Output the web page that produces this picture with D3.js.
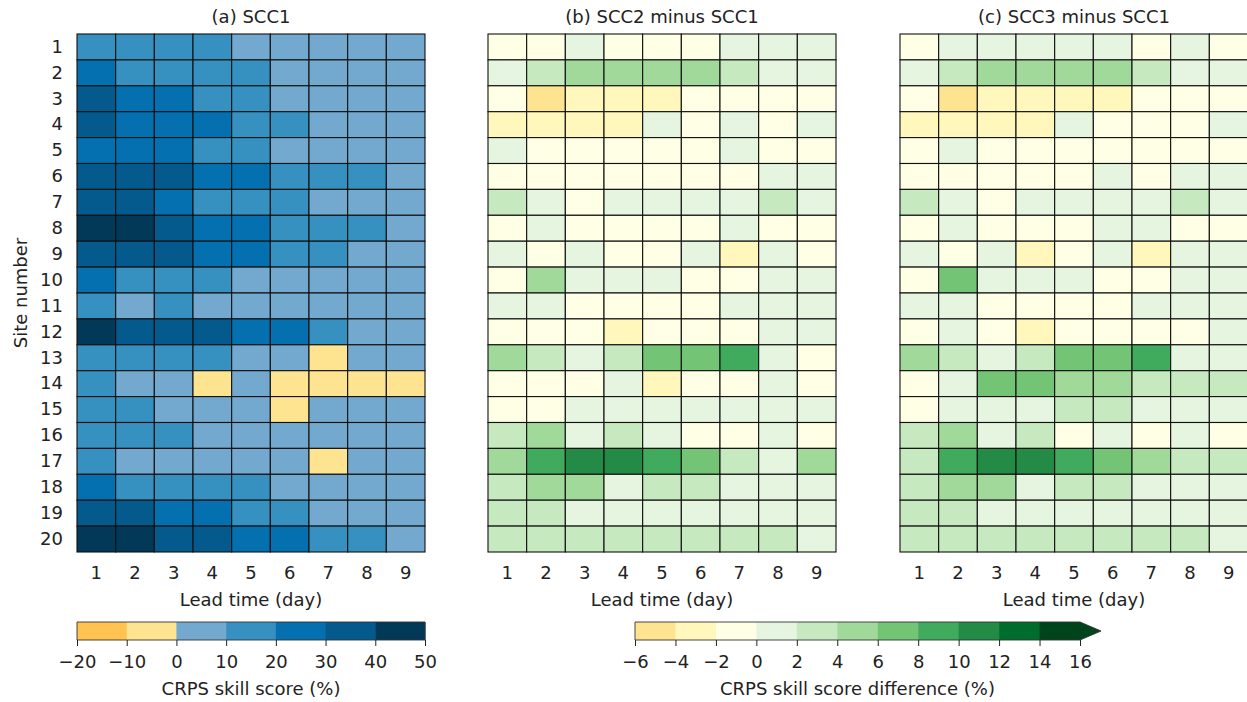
<!DOCTYPE html>
<html>
<head>
<meta charset="utf-8">
<script src="https://cdn.jsdelivr.net/npm/d3@7"></script>
<style>
  body { margin: 0; background: #fff; }
  text { font-family: "DejaVu Sans", sans-serif; fill: #222; }
</style>
</head>
<body>
<div id="chart"></div>
<script>
// lead times and site numbers
let days = [1, 2, 3, 4, 5, 6, 7, 8, 9];
let sites = d3.range(1, 21);

// (a) SCC1 skill score (%), one row per site, estimated from the colour classes
let scc1 = [
    [15, 15, 15, 15, 5, 5, 5, 5, 5],
    [25, 15, 15, 15, 15, 5, 5, 5, 5],
    [35, 25, 25, 15, 15, 5, 5, 5, 5],
    [35, 25, 25, 25, 15, 15, 5, 5, 5],
    [25, 25, 25, 15, 15, 5, 5, 5, 5],
    [35, 35, 35, 25, 25, 15, 15, 15, 5],
    [35, 35, 25, 15, 15, 15, 5, 5, 5],
    [45, 45, 35, 25, 25, 15, 15, 15, 5],
    [35, 35, 35, 25, 25, 15, 15, 5, 5],
    [25, 15, 15, 15, 5, 5, 5, 5, 5],
    [15, 5, 15, 5, 5, 5, 5, 5, 5],
    [45, 35, 35, 35, 25, 25, 15, 5, 5],
    [15, 15, 15, 15, 5, 5, -5, 5, 5],
    [15, 5, 5, -5, 5, -5, -5, -5, -5],
    [15, 15, 5, 5, 5, -5, 5, 5, 5],
    [15, 15, 15, 5, 5, 5, 5, 5, 5],
    [15, 5, 5, 5, 5, 5, -5, 5, 5],
    [25, 15, 15, 15, 15, 5, 5, 5, 5],
    [35, 35, 25, 25, 15, 15, 5, 5, 5],
    [45, 45, 35, 35, 25, 25, 15, 15, 5]
];

// (b) SCC2 minus SCC1 (%)
let scc2diff = [
    [-1, -1, 1, -1, -1, -1, 1, 1, 1],
    [1, 3, 5, 5, 5, 5, 3, 1, 1],
    [-1, -5, -3, -3, -3, -1, -1, -1, -1],
    [-3, -3, -3, -3, 1, -1, 1, -1, 1],
    [1, -1, -1, -1, -1, -1, 1, -1, -1],
    [-1, -1, -1, -1, -1, -1, -1, 1, 1],
    [3, 1, -1, 1, 1, 1, 1, 3, 1],
    [-1, 1, -1, -1, -1, -1, 1, -1, -1],
    [1, -1, 1, -1, -1, 1, -3, 1, -1],
    [-1, 5, 1, 1, 1, -1, -1, 1, 1],
    [1, 1, -1, -1, -1, -1, 1, 1, 1],
    [-1, -1, -1, -3, -1, -1, -1, 1, 1],
    [5, 3, 1, 3, 7, 7, 9, 1, -1],
    [-1, -1, -1, 1, -3, -1, -1, 1, -1],
    [-1, -1, 1, 1, 1, 1, 1, 1, 1],
    [3, 5, 1, 3, 1, -1, -1, 1, -1],
    [5, 9, 11, 11, 9, 7, 3, 1, 5],
    [3, 5, 5, 1, 3, 3, 1, 1, 1],
    [3, 3, 1, 1, 1, 1, 1, 1, 1],
    [3, 3, 3, 3, 3, 3, 3, 3, 1]
];

// (c) SCC3 minus SCC1 (%)
let scc3diff = [
    [-1, 1, 1, 1, 1, 1, -1, 1, -1],
    [1, 3, 5, 5, 5, 5, 3, 1, 1],
    [-1, -5, -3, -3, -3, -3, -1, -1, -1],
    [-3, -3, -3, -3, 1, -1, -1, -1, 1],
    [-1, 1, -1, -1, -1, -1, -1, -1, -1],
    [-1, -1, -1, -1, -1, 1, -1, 1, 1],
    [3, 1, -1, 1, 1, 1, 1, 3, 1],
    [-1, 1, -1, -1, -1, 1, 1, -1, -1],
    [1, -1, 1, -3, -1, 1, -3, 1, 1],
    [-1, 7, 1, 1, 1, -1, -1, 1, 1],
    [1, 1, -1, -1, -1, -1, 1, 1, 1],
    [-1, 1, -1, -3, -1, -1, -1, -1, 1],
    [5, 3, 1, 3, 7, 7, 9, 1, 1],
    [-1, 1, 7, 7, 5, 5, 3, 3, 3],
    [-1, 1, 1, 1, 3, 3, 1, 1, 1],
    [3, 5, 1, 3, -1, 1, -1, 1, -1],
    [3, 9, 11, 11, 9, 7, 5, 3, 3],
    [3, 5, 5, 1, 3, 3, 1, 1, 1],
    [3, 3, 1, 1, 1, 1, 1, 1, 1],
    [3, 3, 3, 3, 3, 3, 3, 3, 1]
];

// colour classes
let skillBounds = [-20, -10, 0, 10, 20, 30, 40, 50];
let skillColors = ["#fec44f", "#fee391", "#74a9cf", "#3690c0", "#0570b0", "#045a8d", "#023858"];
let diffBounds = [-6, -4, -2, 0, 2, 4, 6, 8, 10, 12, 14, 16];
let diffColors = ["#fee391", "#fff7bc", "#ffffe5", "#e5f5e0", "#c7e9c0", "#a1d99b", "#74c476",
                  "#41ab5d", "#238b45", "#006d2c", "#00441b"];

let W = 1247, H = 702;
let fs = "18px";
let svg = d3.select("#chart").append("svg").attr("width", W).attr("height", H);

let skillColor = d3.scaleThreshold().domain(skillBounds.slice(1, -1)).range(skillColors);
let diffColor = d3.scaleThreshold().domain(diffBounds.slice(1, -1)).range(diffColors);

let plotTop = 34, plotBottom = 552, panelW = 348;

function panel(left, title, data, color, showY) {
    let x = d3.scaleBand().domain(days).range([left, left + panelW]);
    let y = d3.scaleBand().domain(sites).range([plotTop, plotBottom]);
    let g = svg.append("g");

    let cells = [];
    data.forEach((row, i) => row.forEach((v, j) => cells.push({site: sites[i], day: days[j], v: v})));

    g.selectAll("rect.cell")
        .data(cells)
        .enter().append("rect")
        .attr("class", "cell")
        .attr("x", (d) => x(d.day))
        .attr("y", (d) => y(d.site))
        .attr("width", x.bandwidth())
        .attr("height", y.bandwidth())
        .attr("fill", (d) => color(d.v))
        .attr("stroke", "#111")
        .attr("stroke-width", 1.1);

    let xAxis = g.append("g")
        .attr("transform", "translate(0," + plotBottom + ")")
        .call(d3.axisBottom(x).tickSize(0).tickPadding(14));
    xAxis.select(".domain").remove();
    xAxis.selectAll("text").style("font-size", fs).attr("fill", "#222");

    if (showY) {
        let yAxis = g.append("g")
            .attr("transform", "translate(" + left + ",0)")
            .call(d3.axisLeft(y).tickSize(0).tickPadding(14));
        yAxis.select(".domain").remove();
        yAxis.selectAll("text").style("font-size", fs).attr("fill", "#222");
    }

    g.append("text")
        .attr("x", left + panelW / 2)
        .attr("y", 23)
        .attr("text-anchor", "middle")
        .style("font-size", fs)
        .text(title);

    g.append("text")
        .attr("x", left + panelW / 2)
        .attr("y", 606)
        .attr("text-anchor", "middle")
        .style("font-size", fs)
        .text("Lead time (day)");
}

panel(77, "(a) SCC1", scc1, skillColor, true);
panel(488, "(b) SCC2 minus SCC1", scc2diff, diffColor, false);
panel(900, "(c) SCC3 minus SCC1", scc3diff, diffColor, false);

svg.append("text")
    .attr("transform", "translate(27," + ((plotTop + plotBottom) / 2) + ") rotate(-90)")
    .attr("text-anchor", "middle")
    .style("font-size", fs)
    .text("Site number");

// colour bars
function colorbar(x0, x1, bounds, colors, label, extend) {
    let cbTop = 622, cbH = 18;
    let s = d3.scaleLinear().domain([bounds[0], bounds[bounds.length - 1]]).range([x0, x1]);
    let g = svg.append("g");
    g.selectAll("rect")
        .data(colors)
        .enter().append("rect")
        .attr("x", (d, i) => s(bounds[i]))
        .attr("y", cbTop)
        .attr("width", (d, i) => s(bounds[i + 1]) - s(bounds[i]) + 0.5)
        .attr("height", cbH)
        .attr("fill", (d) => d);

    let outline = "M" + x0 + "," + cbTop + "H" + x1;
    if (extend) {
        g.append("path")
            .attr("d", "M" + x1 + "," + cbTop + "L" + (x1 + 21) + "," + (cbTop + cbH / 2) + "L" + x1 + "," + (cbTop + cbH) + "Z")
            .attr("fill", extend);
        outline += "L" + (x1 + 21) + "," + (cbTop + cbH / 2) + "L" + x1 + "," + (cbTop + cbH);
    } else {
        outline += "V" + (cbTop + cbH);
    }
    outline += "H" + x0 + "Z";
    g.append("path").attr("d", outline).attr("fill", "none").attr("stroke", "#333").attr("stroke-width", 0.9);

    let ax = g.append("g")
        .attr("transform", "translate(0," + (cbTop + cbH) + ")")
        .call(d3.axisBottom(s).tickValues(bounds).tickSize(6).tickPadding(9).tickFormat((d) => d < 0 ? "\u2212" + (-d) : d));
    ax.select(".domain").remove();
    ax.selectAll("line").attr("stroke", "#222");
    ax.selectAll("text").style("font-size", fs).attr("fill", "#222");

    g.append("text")
        .attr("x", (x0 + x1) / 2)
        .attr("y", 695)
        .attr("text-anchor", "middle")
        .style("font-size", fs)
        .text(label);
}

colorbar(77, 425, skillBounds, skillColors, "CRPS skill score (%)", null);
colorbar(635, 1080, diffBounds, diffColors, "CRPS skill score difference (%)", "#00441b");
</script>
</body>
</html>
